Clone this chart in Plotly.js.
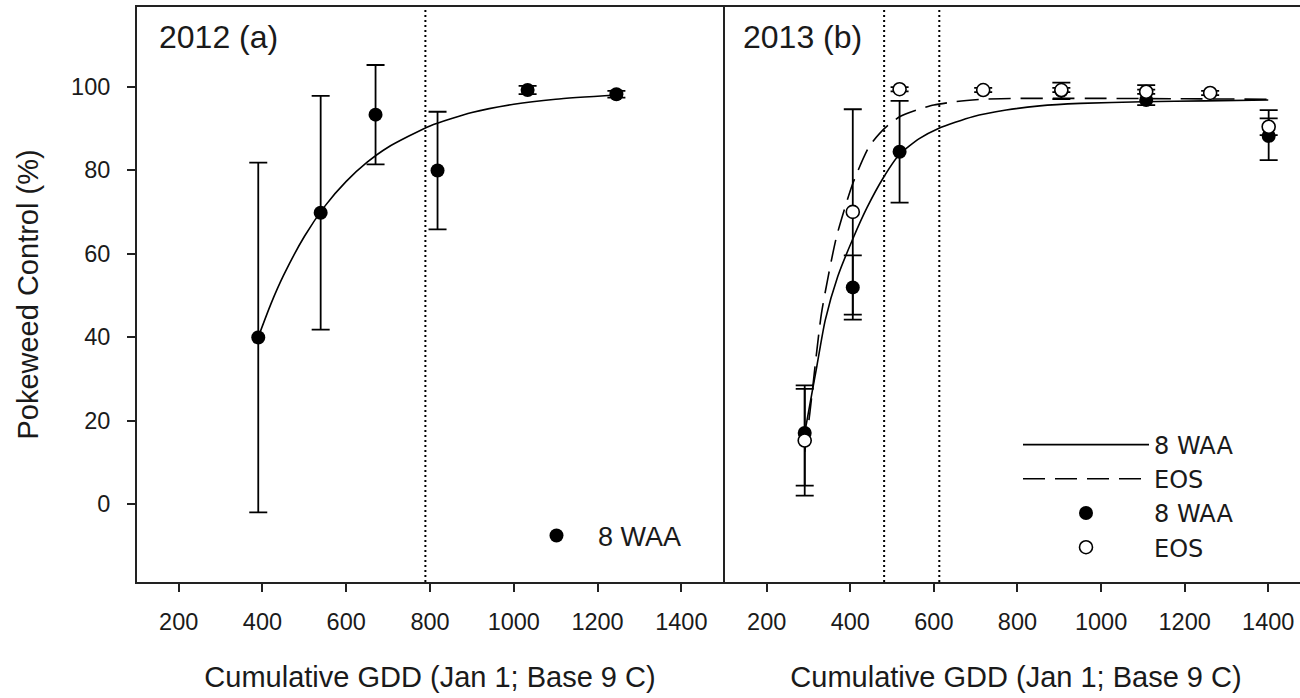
<!DOCTYPE html>
<html><head><meta charset="utf-8">
<script src="https://cdn.plot.ly/plotly-3.0.1.min.js"></script>
<style>html,body{margin:0;padding:0;overflow:hidden;background:#fff}#wrap{width:1300px;height:698px;overflow:hidden}#chart{width:1309px;height:698px}</style>
</head><body><div id="wrap"><div id="chart"></div></div>
<script>
// ---- 2012 (a) ----
const gdd2012 = [390, 539, 670, 818, 1033, 1245];
const waa2012 = [39.9, 69.8, 93.3, 79.9, 99.2, 98.2];
const waa2012Err = [41.9, 28.0, 11.9, 14.1, 1.0, 0.8];
const fit2012X = [390, 420, 450, 500, 550, 600, 650, 700, 800, 900, 1000, 1100, 1245];
const fit2012Y = [40.0, 47.9, 54.7, 64.1, 71.5, 77.3, 81.9, 85.5, 90.6, 93.8, 95.8, 97.0, 98.0];
const vline2012 = [789];

// ---- 2013 (b) ----
const gdd2013Waa = [291, 406, 518, 905, 1108, 1401];
const waa2013 = [17.0, 51.9, 84.4, 99.0, 96.8, 88.2];
const waa2013ErrPlus = [10.6, 7.7, 12.2, 2.0, 3.6, 6.2];
const waa2013ErrMinus = [12.6, 7.7, 12.2, 2.0, 1.2, 5.8];
const gdd2013Eos = [291, 406, 518, 718, 905, 1108, 1261, 1401];
const eos2013 = [15.2, 70.0, 99.4, 99.2, 99.2, 98.8, 98.5, 90.4];
const eos2013Err = [13.2, 24.6, 0.5, 0.5, 0.5, 0.5, 0.5, 2.0];
const fitWaa2013X = [291, 300, 320, 340, 370, 406, 440, 478, 518, 566, 611, 693, 773, 853, 950, 1100, 1250, 1400];
const fitWaa2013Y = [17.0, 22.0, 33.0, 44.0, 54.5, 63.5, 71.0, 78.0, 83.8, 87.6, 90.0, 92.8, 94.4, 95.4, 96.0, 96.4, 96.6, 96.8];
const fitEos2013X = [291, 303, 331, 367, 406, 446, 482, 518, 558, 600, 650, 720, 800, 900, 1000, 1200, 1400];
const fitEos2013Y = [12.5, 21.6, 45.6, 64.0, 76.8, 85.8, 90.0, 92.8, 94.4, 95.6, 96.4, 97.0, 97.2, 97.2, 97.2, 97.1, 97.0];
const vline2013 = [481, 613];

const xTicks = [200, 400, 600, 800, 1000, 1200, 1400];
const yTicks = [0, 20, 40, 60, 80, 100];
const xTitle = 'Cumulative GDD (Jan 1; Base 9 C)';
const yTitle = 'Pokeweed Control (%)';
const panelLabels = ['2012 (a)', '2013 (b)'];

const FONT = 'Liberation Sans, Arial, sans-serif';
const INK = '#1a1a1a';

const traces = [
  {x: fit2012X, y: fit2012Y, xaxis: 'x', yaxis: 'y', mode: 'lines', line: {color: '#000', width: 1.6, shape: 'spline', smoothing: 0.6}, showlegend: false, hoverinfo: 'skip'},
  {x: gdd2012, y: waa2012, xaxis: 'x', yaxis: 'y', mode: 'markers', name: '8 WAA', legend: 'legend',
   marker: {color: '#000', size: 14, symbol: 'circle'},
   error_y: {type: 'data', array: waa2012Err, visible: true, color: '#000', thickness: 1.8, width: 9}},
  {x: fitWaa2013X, y: fitWaa2013Y, xaxis: 'x2', yaxis: 'y2', mode: 'lines', name: '8 WAA', legend: 'legend2',
   line: {color: '#000', width: 1.6, shape: 'spline', smoothing: 0.6}},
  {x: fitEos2013X, y: fitEos2013Y, xaxis: 'x2', yaxis: 'y2', mode: 'lines', name: 'EOS', legend: 'legend2',
   line: {color: '#000', width: 1.6, dash: '22px,10px', shape: 'spline', smoothing: 0.6}},
  {x: gdd2013Waa, y: waa2013, xaxis: 'x2', yaxis: 'y2', mode: 'markers', name: '8 WAA', legend: 'legend2',
   marker: {color: '#000', size: 14, symbol: 'circle'},
   error_y: {type: 'data', symmetric: false, array: waa2013ErrPlus, arrayminus: waa2013ErrMinus, visible: true, color: '#000', thickness: 1.8, width: 9}},
  {x: gdd2013Eos, y: eos2013, xaxis: 'x2', yaxis: 'y2', mode: 'markers', name: 'EOS', legend: 'legend2',
   marker: {color: '#fff', size: 13, symbol: 'circle', line: {color: '#000', width: 1.6}},
   error_y: {type: 'data', array: eos2013Err, visible: true, color: '#000', thickness: 1.8, width: 9}}
];

const xCommon = {
  tickvals: xTicks, ticktext: xTicks.map(String), ticks: 'outside', ticklen: 8, tickwidth: 2, tickcolor: '#222',
  showline: true, linecolor: '#222', linewidth: 2, mirror: true, showgrid: false, zeroline: false,
  tickfont: {family: FONT, size: 23.5, color: INK}, ticklabelstandoff: 10,
  title: {text: xTitle, font: {family: FONT, size: 29, color: INK}, standoff: 32}
};

const shapes = [];
vline2012.forEach(v => shapes.push({type: 'line', xref: 'x', yref: 'y domain', x0: v, x1: v, y0: 0, y1: 1, line: {color: '#000', width: 2, dash: '2px,3px'}}));
vline2013.forEach(v => shapes.push({type: 'line', xref: 'x2', yref: 'y2 domain', x0: v, x1: v, y0: 0, y1: 1, line: {color: '#000', width: 2, dash: '2px,3px'}}));

const layout = {
  width: 1309, height: 698,
  margin: {l: 137, r: 0, t: 7, b: 116},
  paper_bgcolor: '#fff', plot_bgcolor: '#fff',
  showlegend: true,
  xaxis: Object.assign({}, xCommon, {domain: [0, 0.5], range: [100.5, 1499.5], anchor: 'y'}),
  xaxis2: Object.assign({}, xCommon, {domain: [0.5, 1], range: [95.5, 1497.5], anchor: 'y2'}),
  yaxis: {domain: [0, 1], range: [-18.7, 119.1], tickvals: yTicks, ticks: 'outside', ticklen: 8, tickwidth: 2, tickcolor: '#222',
    showline: true, linecolor: '#222', linewidth: 2, mirror: true, showgrid: false, zeroline: false, anchor: 'x',
    tickfont: {family: FONT, size: 23.5, color: INK}, ticklabelstandoff: 12,
    title: {text: yTitle, font: {family: FONT, size: 29, color: INK}, standoff: 24}},
  yaxis2: {domain: [0, 1], range: [-18.7, 119.1], showticklabels: false, ticks: '', anchor: 'x2',
    showline: false, showgrid: false, zeroline: false},
  legend: {x: (515 - 137) / 1172, xanchor: 'left', y: (582 - 536) / 575, yanchor: 'middle', itemwidth: 73,
    font: {family: FONT, size: 27, color: INK}, bgcolor: 'rgba(0,0,0,0)', borderwidth: 0, itemclick: false},
  legend2: {x: (1018 - 137) / 1172, xanchor: 'left', y: (582 - 496) / 575, yanchor: 'middle', itemwidth: 126,
    font: {family: 'DejaVu Sans, Open Sans, sans-serif', size: 24, color: INK}, bgcolor: 'rgba(0,0,0,0)', borderwidth: 0, traceorder: 'normal', itemclick: false},
  shapes: shapes,
  annotations: [
    {text: panelLabels[0], xref: 'x domain', yref: 'y domain', x: 0, y: 1, xanchor: 'left', yanchor: 'middle', xshift: 20, yshift: -30, showarrow: false, font: {family: FONT, size: 32, color: INK}},
    {text: panelLabels[1], xref: 'x2 domain', yref: 'y2 domain', x: 0, y: 1, xanchor: 'left', yanchor: 'middle', xshift: 18, yshift: -30, showarrow: false, font: {family: FONT, size: 32, color: INK}}
  ]
};

Plotly.newPlot('chart', traces, layout, {displayModeBar: false, staticPlot: true});
</script></body></html>
